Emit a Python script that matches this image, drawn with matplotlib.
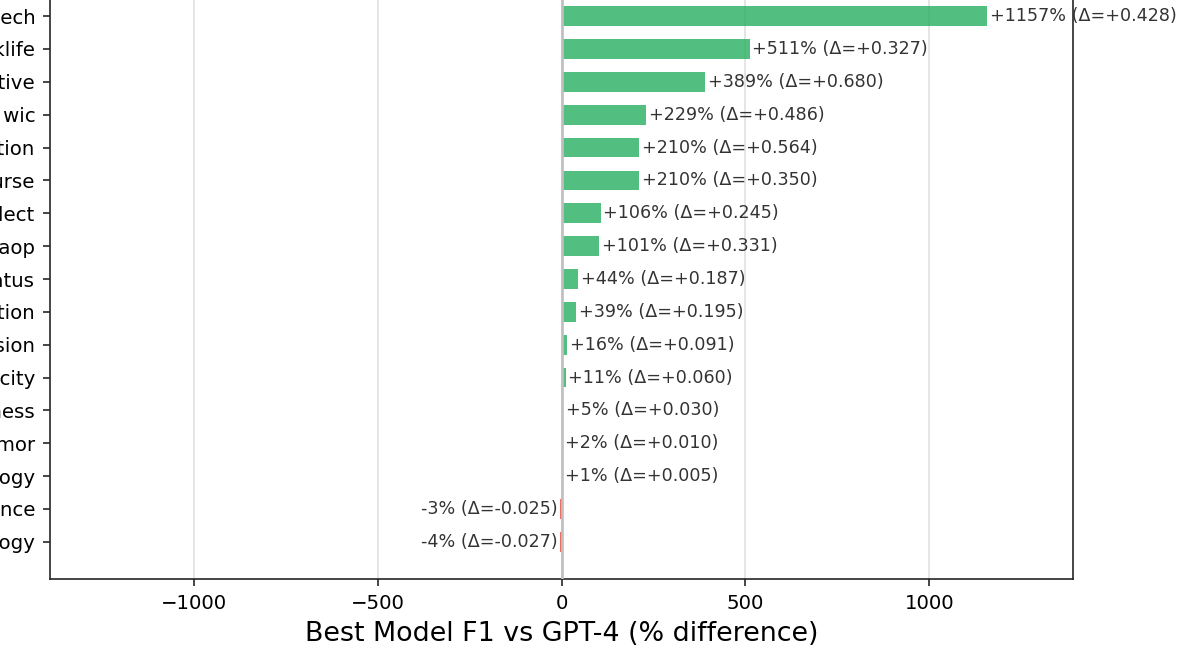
import matplotlib
matplotlib.use("Agg")
import matplotlib.pyplot as plt

# tasks, top to bottom
tasks = ["hate_speech", "worklife", "figurative", "tweet wic", "emotion_detection",
         "discourse", "dialect", "misinfo_crowdaop", "social_status", "stance_detection",
         "persuasion", "toxicity", "politeness", "humor", "ideology",
         "tweet_stance", "psychology"]
pct_diff = [1157, 511, 389, 229, 210, 210, 106, 101, 44, 39, 16, 11, 5, 2, 1, -3, -4]
f1_delta = [0.428, 0.327, 0.680, 0.486, 0.564, 0.350, 0.245, 0.331, 0.187, 0.195,
            0.091, 0.060, 0.030, 0.010, 0.005, -0.025, -0.027]

edge = "#262626"
plt.rcParams["axes.edgecolor"] = edge
plt.rcParams["xtick.color"] = edge
plt.rcParams["ytick.color"] = edge

fig = plt.figure(figsize=(1192 / 150, 652 / 150), dpi=150)
# the figure is a crop of a bigger one: axes top and y labels run off the canvas
ax = fig.add_axes([50 / 1192, 73 / 652, 1023 / 1192, 600 / 652])

colors = ["#27ae60" if v >= 0 else "#e74c3c" for v in pct_diff]
ypos = list(range(len(tasks)))
ax.barh(ypos, pct_diff, height=0.6, color=colors, alpha=0.8, zorder=2)
ax.axvline(0, color="#c0c0c0", lw=1.3, zorder=3)

for y, v, d in zip(ypos, pct_diff, f1_delta):
    txt = f"{v:+d}% (\u0394={d:+.3f})"
    if v >= 0:
        ax.text(v + 8, y, txt, ha="left", va="center", fontsize=8.4, color="#333333", zorder=4)
    else:
        ax.text(v - 7, y, txt, ha="right", va="center", fontsize=8.4, color="#333333", zorder=4)

ax.set_yticks(ypos)
ax.set_yticklabels(tasks, fontsize=9.5, color="black")
ax.invert_yaxis()
ax.set_xlim(-1390, 1390)
ax.set_xticks([-1000, -500, 0, 500, 1000])
ax.tick_params(axis="x", labelsize=9.5, labelcolor="black")
ax.set_xlabel("Best Model F1 vs GPT-4 (% difference)", fontsize=12.9)
ax.grid(axis="x", color="#e0e0e0", lw=0.8, zorder=0)
ax.set_axisbelow(True)

fig.savefig("out.png", dpi=150)
